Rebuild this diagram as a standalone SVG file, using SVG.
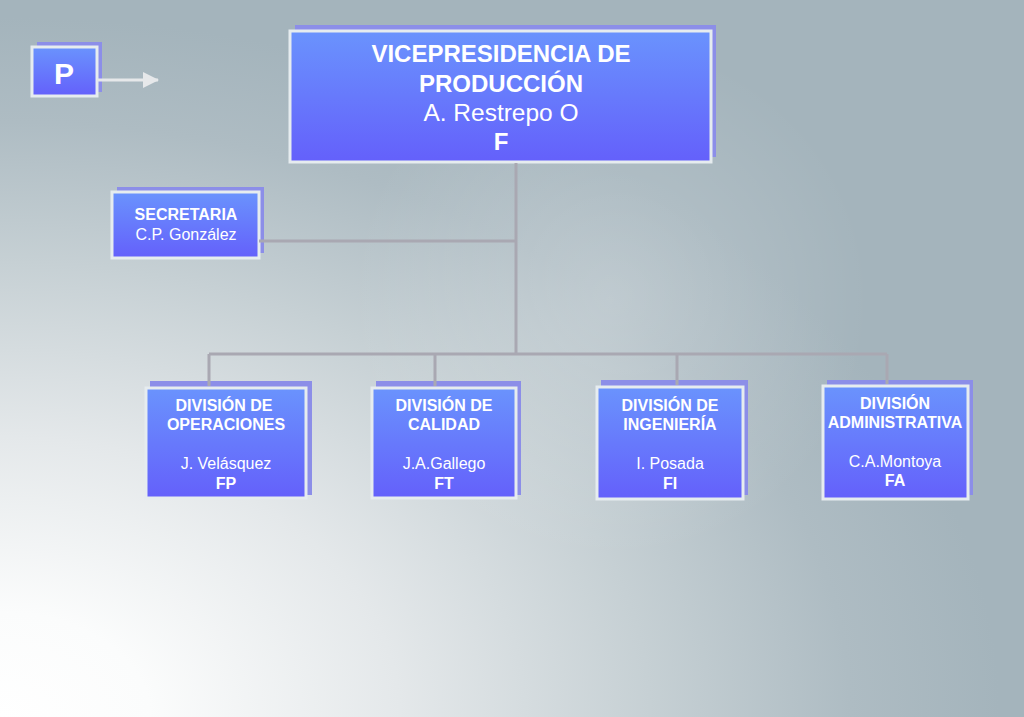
<svg xmlns="http://www.w3.org/2000/svg" width="1024" height="717" viewBox="0 0 1024 717">
<defs>
<radialGradient id="bg" cx="0" cy="717" r="1000" gradientUnits="userSpaceOnUse" gradientTransform="translate(0,717) scale(1,0.7) translate(0,-717)">
<stop offset="0" stop-color="#ffffff"/>
<stop offset="0.15" stop-color="#fbfcfc"/>
<stop offset="0.4" stop-color="#e4e8ea"/>
<stop offset="0.65" stop-color="#c6d0d4"/>
<stop offset="0.85" stop-color="#aebcc3"/>
<stop offset="1" stop-color="#a4b4bc"/>
</radialGradient>
<radialGradient id="glow" cx="610" cy="300" r="260" gradientUnits="userSpaceOnUse">
<stop offset="0" stop-color="#ffffff" stop-opacity="0.22"/>
<stop offset="1" stop-color="#ffffff" stop-opacity="0"/>
</radialGradient>
<linearGradient id="box" x1="0" y1="0" x2="0" y2="1">
<stop offset="0" stop-color="#6a93fd"/>
<stop offset="1" stop-color="#6460fb"/>
</linearGradient>
<marker id="arr" markerWidth="16" markerHeight="16" refX="15" refY="8" orient="auto" markerUnits="userSpaceOnUse">
<path d="M0,0 L16,8 L0,16 Z" fill="#e6e8ea"/>
</marker>
</defs>
<style>
.sh{fill:#8c8ee8}
.fr{fill:url(#box);stroke:#e6ecef;stroke-width:3}
.b{font-family:"Liberation Sans",Arial,sans-serif;font-weight:bold;fill:#ffffff;text-anchor:middle}
.r{font-family:"Liberation Sans",Arial,sans-serif;fill:#ffffff;text-anchor:middle}
.ln{stroke:#a9a8b2;stroke-width:3;fill:none}
</style>
<rect width="1024" height="717" fill="url(#bg)"/>
<rect width="1024" height="717" fill="url(#glow)"/>
<g id="p">
<rect class="sh" x="37" y="42" width="65" height="50"/>
<rect class="fr" x="32" y="47" width="65" height="49"/>
<text class="b" x="64" y="84" font-size="30">P</text>
</g>
<g id="vp">
<rect class="sh" x="295" y="25" width="421" height="132"/>
<rect class="fr" x="290" y="31" width="421" height="131"/>
<text class="b" x="501" y="62" font-size="24">VICEPRESIDENCIA DE</text>
<text class="b" x="501" y="92" font-size="24">PRODUCCIÓN</text>
<text class="r" x="501" y="121" font-size="24.5">A. Restrepo O</text>
<text class="b" x="501" y="150" font-size="24">F</text>
</g>
<g id="secretaria">
<rect class="sh" x="117" y="187" width="147" height="66"/>
<rect class="fr" x="112" y="192" width="147" height="66"/>
<text class="b" x="186" y="220" font-size="16">SECRETARIA</text>
<text class="r" x="186" y="240" font-size="16">C.P. González</text>
</g>
<g id="operaciones">
<rect class="sh" x="150" y="381" width="162" height="114"/>
<rect class="fr" x="146" y="388" width="160" height="110"/>
<text class="b" x="224" y="411" font-size="16">DIVISIÓN DE</text>
<text class="b" x="226" y="430" font-size="16">OPERACIONES</text>
<text class="r" x="226" y="469" font-size="16">J. Velásquez</text>
<text class="b" x="226" y="489" font-size="16">FP</text>
</g>
<g id="calidad">
<rect class="sh" x="376" y="381" width="145" height="114"/>
<rect class="fr" x="372" y="388" width="144" height="110"/>
<text class="b" x="444" y="411" font-size="16">DIVISIÓN DE</text>
<text class="b" x="444" y="430" font-size="16">CALIDAD</text>
<text class="r" x="444" y="469" font-size="16">J.A.Gallego</text>
<text class="b" x="444" y="489" font-size="16">FT</text>
</g>
<g id="ingenieria">
<rect class="sh" x="601" y="380" width="147" height="115"/>
<rect class="fr" x="597" y="387" width="146" height="112"/>
<text class="b" x="670" y="411" font-size="16">DIVISIÓN DE</text>
<text class="b" x="670" y="430" font-size="16">INGENIERÍA</text>
<text class="r" x="670" y="469" font-size="16">I. Posada</text>
<text class="b" x="670" y="489" font-size="16">FI</text>
</g>
<g id="administrativa">
<rect class="sh" x="827" y="380" width="146" height="115"/>
<rect class="fr" x="823" y="386" width="145" height="113"/>
<text class="b" x="895" y="409" font-size="16">DIVISIÓN</text>
<text class="b" x="895" y="428" font-size="16">ADMINISTRATIVA</text>
<text class="r" x="895" y="467" font-size="16">C.A.Montoya</text>
<text class="b" x="895" y="486" font-size="16">FA</text>
</g>
<g id="connectors">
<path class="ln" d="M516,163 V354 M259,241 H516 M209,354 H887 M209,354 V386 M435,354 V386 M677,354 V385 M887,354 V384"/>
<path d="M97,80 H158" stroke="#e6e8ea" stroke-width="3" marker-end="url(#arr)"/>
</g>
</svg>
